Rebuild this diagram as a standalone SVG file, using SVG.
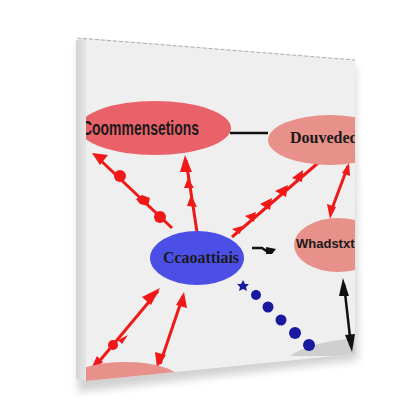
<svg xmlns="http://www.w3.org/2000/svg" width="416" height="416" viewBox="0 0 416 416">
<defs>
<style>
.red{stroke:#f01818;stroke-width:3;fill:none}
.redf{fill:#f01818}
.blk{stroke:#111;stroke-width:2.5;fill:none}
.lbl{fill:#1a1a1a;font-weight:bold}
</style>
<clipPath id="face"><polygon points="86,38 355,60 355,354 86,381"/></clipPath>
<linearGradient id="side" x1="0" x2="1"><stop offset="0" stop-color="#d4d4d4"/><stop offset="1" stop-color="#e6e6e6"/></linearGradient>
<filter id="sh" x="-20%" y="-20%" width="140%" height="140%"><feGaussianBlur stdDeviation="4"/></filter>
</defs>
<rect width="416" height="416" fill="#ffffff"/>
<polygon points="78,44 355,66 358,360 78,392" fill="#000" opacity="0.18" filter="url(#sh)"/>
<polygon points="76,40 86,38 86,381 76,379" fill="url(#side)"/>
<polygon points="86,38 355,60 355,354 86,381" fill="#efefef"/>
<line x1="77" y1="38" x2="355" y2="60" stroke="#999" stroke-width="0.8" stroke-dasharray="4,2"/>
<g clip-path="url(#face)">
<path d="M290,356 Q310,342 355,338 L355,356 Z" fill="#cfcfcf"/>
<g id="connectors">
<line x1="230" y1="133" x2="268" y2="133" class="blk" stroke-width="2"/>
<line x1="96" y1="156" x2="172" y2="228" class="red"/>
<polygon points="92,153 108,155 100,165" class="redf"/>
<circle cx="120" cy="176" r="6" class="redf"/>
<polygon points="142,195 150,198 148,206 140,204 136,199" class="redf"/>
<circle cx="160" cy="217" r="6" class="redf"/>
<line x1="197" y1="232" x2="186" y2="160" class="red"/>
<polygon points="185,155 192,172 180,172" class="redf"/>
<polygon points="188,178 194,188 184,188" class="redf"/>
<polygon points="191,195 197,207 187,206" class="redf"/>
<line x1="232" y1="237" x2="318" y2="163" class="red"/>
<polygon points="232,229 242,226 240,234" class="redf"/>
<polygon points="245,216 256,212 254,222" class="redf"/>
<polygon points="260,204 272,198 270,210" class="redf"/>
<polygon points="275,191 288,185 286,197" class="redf"/>
<polygon points="292,178 303,170 302,182" class="redf"/>
<line x1="348" y1="166" x2="330" y2="214" class="red"/>
<polygon points="330,219 327,204 336,207" class="redf"/>
<polygon points="349,163 350,176 342,173" class="redf"/>
<line x1="92" y1="370" x2="158" y2="291" class="red"/>
<polygon points="89,373 97,356 103,362" class="redf"/>
<polygon points="160,288 142,297 151,305" class="redf"/>
<circle cx="113" cy="345" r="5" class="redf"/>
<polygon points="118,340 128,335 122,344" class="redf"/>
<line x1="160" y1="364" x2="183" y2="296" class="red"/>
<polygon points="157,368 155,352 166,355" class="redf"/>
<polygon points="184,292 187,308 176,305" class="redf"/>
<path d="M252,248 L262,248 L268,252 L272,250" class="blk" stroke-width="2.5"/>
<polygon points="266,247 276,249 272,254 266,254" fill="#111"/>
<line x1="344" y1="284" x2="351" y2="346" class="blk" stroke-width="2.5"/>
<polygon points="343,278 349,296 339,296" fill="#111"/>
<polygon points="352,352 355,334 345,335" fill="#111"/>
<polygon points="243,280 245,284 249,284 246,287 247,291 243,289 239,291 240,287 237,284 241,284" fill="#1a1aa0"/>
<circle cx="256" cy="295" r="5" fill="#1a1aa0"/>
<circle cx="268" cy="307" r="5.5" fill="#1a1aa0"/>
<circle cx="281" cy="320" r="5.5" fill="#1a1aa0"/>
<circle cx="295" cy="333" r="6" fill="#1a1aa0"/>
<circle cx="309" cy="345" r="6" fill="#1a1aa0"/>
</g>
<g id="node-conversations">
<ellipse cx="155" cy="128" rx="76" ry="27" fill="#e9626a"/>
<text x="82" y="135" class="lbl" font-family="Liberation Sans, sans-serif" font-size="21" font-weight="normal" textLength="117" lengthAdjust="spacingAndGlyphs">Coommensetions</text>
</g>
<g id="node-douvedede">
<ellipse cx="330" cy="140" rx="62" ry="25" fill="#e8908a"/>
<text x="290" y="143" class="lbl" font-family="Liberation Serif, serif" font-size="16">Douvedede</text>
</g>
<g id="node-center">
<ellipse cx="197" cy="258" rx="47" ry="27" fill="#4c4fe6"/>
<text x="163" y="263" class="lbl" font-family="Liberation Serif, serif" font-size="17" textLength="76" lengthAdjust="spacingAndGlyphs">Ccaoattiais</text>
</g>
<g id="node-whadstxt">
<ellipse cx="338" cy="245" rx="44" ry="27" fill="#e8908a"/>
<text x="296" y="248" class="lbl" font-family="Liberation Sans, sans-serif" font-size="13">Whadstxt</text>
</g>
<g id="node-bottom">
<ellipse cx="125" cy="380" rx="55" ry="18" fill="#e8908a"/>
</g>
</g>
</svg>
